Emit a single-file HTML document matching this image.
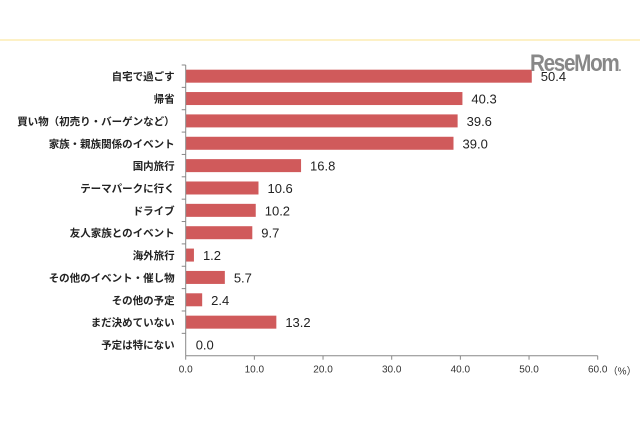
<!DOCTYPE html>
<html><head><meta charset="utf-8"><style>
body{margin:0;background:#fff;width:640px;height:426px;overflow:hidden;position:relative;font-family:"Liberation Sans","Noto Sans CJK JP",sans-serif}
.t{position:absolute;white-space:nowrap}
</style></head><body>
<div style="position:absolute;left:0;top:39px;width:640px;height:2px;background:#fdf1c6"></div>
<svg id="sv" width="640" height="426" style="position:absolute;left:0;top:0" font-family="Liberation Sans, Noto Sans CJK JP, sans-serif"></svg>
<div class="t" style="left:530px;top:50px;font-size:24px;font-weight:bold;color:#888;letter-spacing:-1.5px;transform:scaleX(0.86);transform-origin:left">ReseMom<span style="font-size:12px">.</span></div>
<script>
(function(){
const d=[["自宅で過ごす",50.4],["帰省",40.3],["買い物（初売り・バーゲンなど）",39.6],["家族・親族関係のイベント",39.0],["国内旅行",16.8],["テーマパークに行く",10.6],["ドライブ",10.2],["友人家族とのイベント",9.7],["海外旅行",1.2],["その他のイベント・催し物",5.7],["その他の予定",2.4],["まだ決めていない",13.2],["予定は特にない",0.0]];
const x0=185.7,k=412/60,y0=65,yb=355.7,h=(yb-y0)/13;
let s='';
d.forEach((r,i)=>{const c=y0+h*(i+0.5);const w=r[1]*k;
if(w>0)s+=`<rect x="${x0}" y="${c-6.5}" width="${w}" height="13" fill="#d05a5b"/>`;
s+=`<text x="${x0+w+(w>0?9:10)}" y="${c+5}" font-size="13" fill="#222">${r[1].toFixed(1)}</text>`;
s+=`<text x="${x0-11}" y="${c+4}" font-size="10.5" font-weight="bold" fill="#222" text-anchor="end">${r[0]}</text>`;
s+=`<line x1="${x0-4}" x2="${x0}" y1="${y0+h*i}" y2="${y0+h*i}" stroke="#888"/>`;
});
s+=`<line x1="${x0}" x2="${x0}" y1="${y0}" y2="${yb}" stroke="#888"/><line x1="${x0}" x2="${x0+412}" y1="${yb}" y2="${yb}" stroke="#888"/>`;
for(let j=0;j<=6;j++){const x=x0+j*10*k;s+=`<line x1="${x}" x2="${x}" y1="${yb}" y2="${yb+4}" stroke="#888"/><text x="${x}" y="${yb+17}" font-size="10" fill="#333" text-anchor="middle">${(j*10).toFixed(1)}</text>`;}
s+=`<text x="${x0+422}" y="${yb+19}" font-size="10" fill="#333">（%）</text>`;
document.getElementById('sv').innerHTML=s;
})();
</script>
</body></html>
